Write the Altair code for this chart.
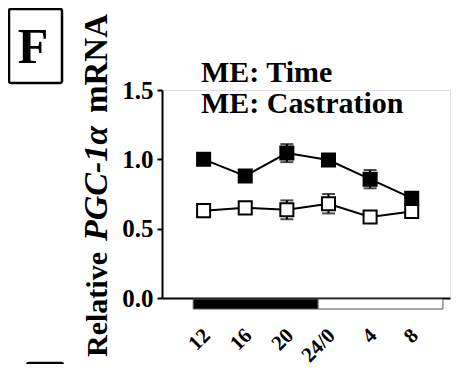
import altair as alt
import pandas as pd

# ---- data ----
hour_labels = ["12", "16", "20", "24/0", "4", "8"]
hour_index = [0, 1, 2, 3, 4, 5]
intact_mean = [1.00, 0.88, 1.045, 0.995, 0.857, 0.72]
intact_sem = [0.02, 0.02, 0.065, 0.02, 0.066, 0.02]
castr_mean = [0.63, 0.65, 0.636, 0.68, 0.584, 0.624]
castr_sem = [0.02, 0.02, 0.068, 0.07, 0.02, 0.02]

phase_names = ["dark", "light"]
phase_start = [-0.25, 2.75]
phase_end = [2.75, 5.75]
phase_fill = ["black", "white"]

FONT = "Liberation Serif"

rows = []
for g, m, s in (("Intact", intact_mean, intact_sem), ("Castrated", castr_mean, castr_sem)):
    for i, lab, mv, sv in zip(hour_index, hour_labels, m, s):
        rows.append({"group": g, "idx": i, "hour": lab, "mean": mv,
                     "lo": mv - sv, "hi": mv + sv})
df = pd.DataFrame(rows)
phases = pd.DataFrame({"phase": phase_names, "start": phase_start,
                       "end": phase_end, "fill": phase_fill})
one = pd.DataFrame({"a": [0]})

label_expr = "[" + ",".join("'%s'" % h for h in hour_labels) + "][datum.value]"

xscale = alt.Scale(domain=[-1, 5.92], nice=False, zero=False)
yscale = alt.Scale(domain=[0, 1.5], nice=False)

x_axis = alt.Axis(values=hour_index, labelExpr=label_expr, title=None,
                  ticks=False, grid=False, domainColor="black", domainWidth=2,
                  labelAngle=-45, labelAlign="right", labelBaseline="middle",
                  labelPadding=34, labelOffset=3, labelFont=FONT,
                  labelFontWeight="bold", labelFontSize=21, labelColor="black",
                  labelOverlap=False, labelBound=False, labelFlush=False)
y_axis = alt.Axis(values=[0, 0.5, 1.0, 1.5], format=".1f", title=None,
                  grid=False, domainColor="black", domainWidth=2,
                  tickColor="black", tickWidth=2, tickSize=5, labelPadding=4,
                  labelFont=FONT, labelFontWeight="bold", labelFontSize=25,
                  labelColor="black")

color = alt.Color("group:N", scale=alt.Scale(domain=["Intact", "Castrated"],
                                             range=["black", "white"]), legend=None)

base = alt.Chart(df)

lines = base.mark_line(color="black", strokeWidth=2).encode(
    x=alt.X("idx:Q", scale=xscale, axis=x_axis),
    y=alt.Y("mean:Q", scale=yscale, axis=y_axis),
    detail="group:N",
)
err = base.mark_rule(color="black", strokeWidth=2).encode(
    x="idx:Q", y="lo:Q", y2="hi:Q")
cap_lo = base.mark_tick(color="black", orient="horizontal", size=13, thickness=2).encode(
    x="idx:Q", y="lo:Q")
cap_hi = base.mark_tick(color="black", orient="horizontal", size=13, thickness=2).encode(
    x="idx:Q", y="hi:Q")
pts = base.mark_point(shape="square", filled=True, size=170, stroke="black",
                      strokeWidth=2, opacity=1).encode(
    x="idx:Q", y="mean:Q", fill=color)

bars = alt.Chart(phases).mark_rect(stroke="#555555", strokeWidth=1).encode(
    x="start:Q", x2="end:Q",
    y=alt.value(209), y2=alt.value(219),
    fill=alt.Fill("fill:N", scale=None),
)

def txt(s, x, y, size, style="normal", angle=0, align="left"):
    return alt.Chart(one).mark_text(
        text=s, font=FONT, fontWeight="bold", fontStyle=style, fontSize=size,
        angle=angle, align=align, baseline="alphabetic", color="black"
    ).encode(x=alt.value(x), y=alt.value(y))

ann = [
    txt("ME: Time", 39, -8, 30),
    txt("ME: Castration", 39, 23, 30),
    txt("Relative", -55, 267, 30, angle=270),
    txt("PGC-1\u03b1", -55, 151, 34, style="italic", angle=270),
    txt("mRNA", -55, 23, 33, angle=270),
    txt("F", -129, -27, 50, align="center"),
]

box_f = alt.Chart(one).mark_rect(fillOpacity=0, stroke="black", strokeWidth=2.5,
                                 cornerRadius=2).encode(
    x=alt.value(-153), x2=alt.value(-100), y=alt.value(-81), y2=alt.value(-7))
box_g = alt.Chart(one).mark_rect(fillOpacity=0, stroke="black", strokeWidth=2.5,
                                 cornerRadius=2).encode(
    x=alt.value(-135), x2=alt.value(-99), y=alt.value(273), y2=alt.value(320))

chart = alt.layer(lines, bars, err, cap_lo, cap_hi, pts, box_f, box_g, *ann).properties(
    width=288, height=208, autosize="none",
    padding={"left": 154, "top": 82, "right": 7, "bottom": 66},
).configure_view(stroke=None).configure(background="white")

chart.save("out.html", embed_options={"renderer": "svg", "actions": False})
